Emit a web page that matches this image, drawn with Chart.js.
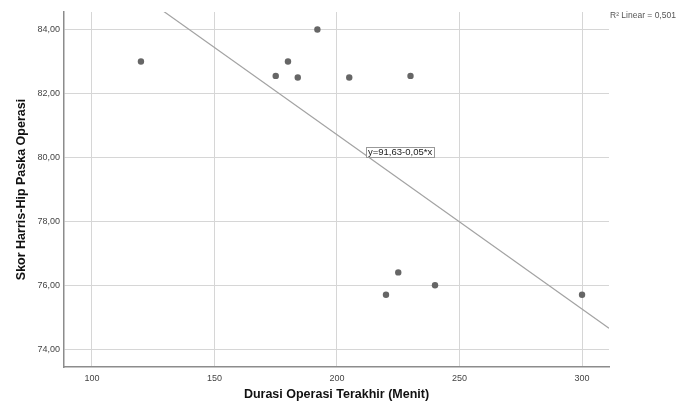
<!DOCTYPE html>
<html>
<head>
<meta charset="utf-8">
<script src="https://cdn.jsdelivr.net/npm/chart.js@4/dist/chart.umd.min.js"></script>
<style>
  body { margin: 0; background: #fff; }
  #wrap { width: 679px; height: 406px; position: relative; }
</style>
</head>
<body>
<div id="wrap"><canvas id="scatter"></canvas></div>
<script>
// durasi operasi (menit) vs skor Harris-Hip
const durasi = [120, 175, 180, 184, 192, 205, 230, 220, 225, 240, 300];
const skor   = [83.0, 82.55, 83.0, 82.5, 84.0, 82.5, 82.55, 75.7, 76.4, 76.0, 75.7];

// fit line ends (y=91,63-0,05*x), spans the whole x range
const fitX = [88.6, 311];
const fitY = [86.79, 74.65];

const xTicks = [100, 150, 200, 250, 300];
const yTicks = [74, 76, 78, 80, 82, 84];

const eqText = 'y=91,63-0,05*x';
const eqAt = { x: 212, y: 80.33 };
const r2Text = 'R² Linear = 0,501';

const xTitle = 'Durasi Operasi Terakhir (Menit)';
const yTitle = 'Skor Harris-Hip Paska Operasi';

const FONT = '"Liberation Sans", Arial, sans-serif';

const points = durasi.map((d, i) => ({ x: d, y: skor[i] }));
const fitLine = fitX.map((d, i) => ({ x: d, y: fitY[i] }));

// equation box + R² note, SPSS style
const notes = {
  id: 'notes',
  afterDraw(chart) {
    const ctx = chart.ctx;
    const xs = chart.scales.x, ys = chart.scales.y;
    ctx.save();
    ctx.font = '9.5px ' + FONT;
    ctx.textBaseline = 'middle';
    const px = Math.round(xs.getPixelForValue(eqAt.x));
    const py = Math.round(ys.getPixelForValue(eqAt.y));
    const w = Math.round(ctx.measureText(eqText).width + 4);
    ctx.fillStyle = '#fff';
    ctx.fillRect(px, py, w, 10);
    ctx.strokeStyle = '#999';
    ctx.lineWidth = 1;
    ctx.strokeRect(px + 0.5, py + 0.5, w, 10);
    ctx.fillStyle = '#222';
    ctx.fillText(eqText, px + 2, py + 5.5);

    ctx.font = '8.5px ' + FONT;
    ctx.fillStyle = '#555';
    ctx.fillText(r2Text, chart.chartArea.right + 1, 16);
    ctx.restore();
  }
};

new Chart(document.getElementById('scatter'), {
  type: 'scatter',
  data: {
    datasets: [
      {
        data: points,
        backgroundColor: '#666',
        borderWidth: 0,
        pointRadius: 3.2,
        order: 1
      },
      {
        type: 'line',
        data: fitLine,
        borderColor: '#a3a3a3',
        borderWidth: 1.2,
        pointRadius: 0,
        fill: false,
        order: 2
      }
    ]
  },
  options: {
    responsive: true,
    maintainAspectRatio: false,
    animation: false,
    events: [],
    layout: { padding: { top: 12, right: 70, left: 0, bottom: 0 } },
    plugins: {
      legend: { display: false },
      tooltip: { enabled: false }
    },
    scales: {
      x: {
        type: 'linear',
        min: 88.6,
        max: 311,
        afterBuildTicks: s => { s.ticks = xTicks.map(v => ({ value: v })); },
        afterFit: s => { s.height = 39; },
        grid: { color: '#d6d6d6', drawTicks: false },
        border: { display: true, color: '#8c8c8c', width: 1.5 },
        ticks: {
          padding: 6,
          color: '#444',
          font: { family: FONT, size: 9 }
        },
        title: {
          display: true,
          text: xTitle,
          color: '#111',
          padding: { top: 0, bottom: 4 },
          font: { family: FONT, size: 12.5, weight: 'bold' }
        }
      },
      y: {
        min: 73.44,
        max: 84.55,
        afterBuildTicks: s => { s.ticks = yTicks.map(v => ({ value: v })); },
        afterFit: s => { s.width = 64; },
        grid: { color: '#d6d6d6', drawTicks: false },
        border: { display: true, color: '#8c8c8c', width: 1.5 },
        ticks: {
          padding: 4,
          color: '#444',
          font: { family: FONT, size: 9 },
          callback: v => v.toFixed(2).replace('.', ',')
        },
        title: {
          display: true,
          text: yTitle,
          color: '#111',
          padding: { top: 14, bottom: 0 },
          font: { family: FONT, size: 12.5, weight: 'bold' }
        }
      }
    }
  },
  plugins: [notes]
});
</script>
</body>
</html>
